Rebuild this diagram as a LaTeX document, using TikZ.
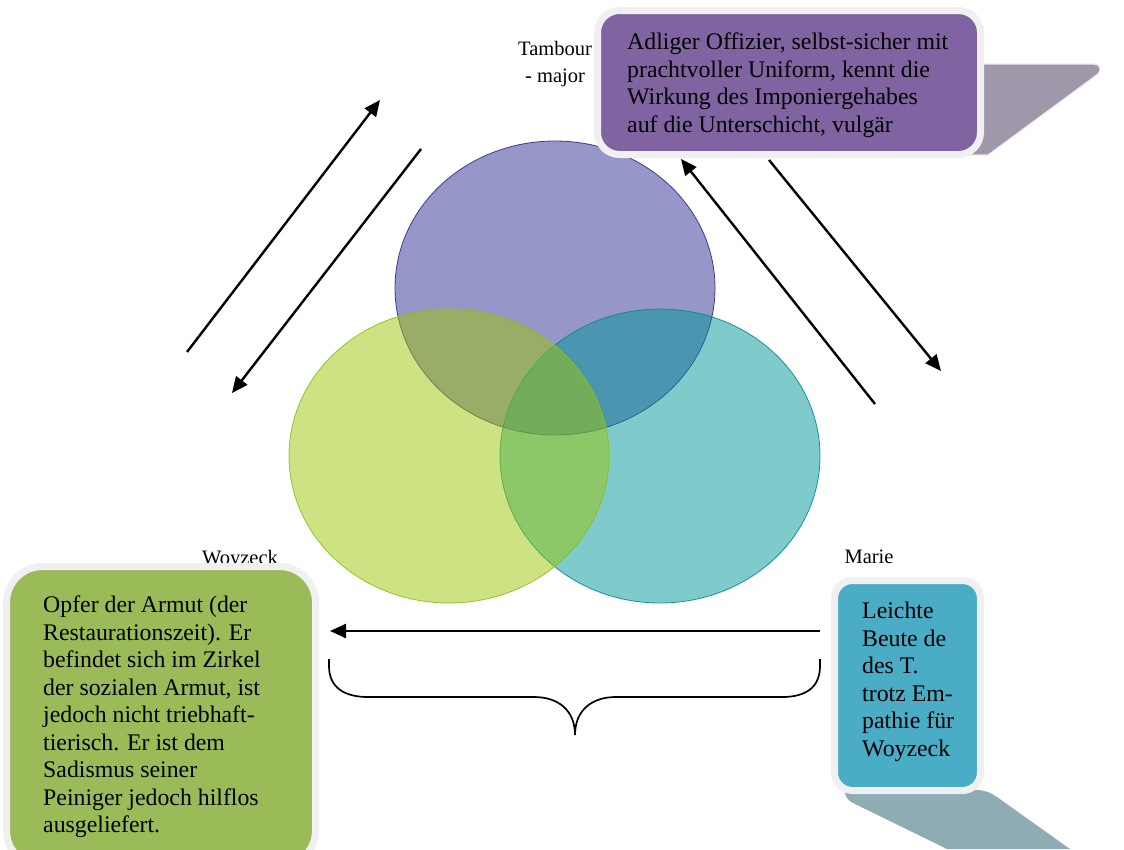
\documentclass[tikz,border=0pt]{standalone}
\usepackage{fontspec}
\setmainfont{Liberation Serif}
\usetikzlibrary{arrows.meta}
\definecolor{cPurpleBase}{RGB}{45,45,145}
\definecolor{cPurpleEdge}{RGB}{45,45,140}
\definecolor{cGreenBase}{RGB}{155,199,7}
\definecolor{cGreenEdge}{RGB}{140,190,20}
\definecolor{cTealBase}{RGB}{0,149,151}
\definecolor{cTealEdge}{RGB}{0,140,145}
\definecolor{boxPurple}{RGB}{128,100,162}
\definecolor{boxGreen}{RGB}{155,187,89}
\definecolor{boxBlue}{RGB}{75,172,198}
\definecolor{boxRim}{RGB}{240,240,240}
\definecolor{shPurple}{RGB}{160,152,170}
\definecolor{shBlue}{RGB}{143,171,180}
\begin{document}
\begin{tikzpicture}[x=1pt,y=-1pt,
  venn/.style={fill opacity=0.5, draw opacity=0.9, line width=0.8},
  cbox/.style={draw=boxRim, line width=7, inner sep=0},
  btext/.style={font=\fontsize{23.8}{27.5}\selectfont, align=left, inner sep=0, anchor=west},
  lbl/.style={font=\fontsize{20.5}{27.5}\selectfont, align=center, inner sep=0},
  arr/.style={line width=2.4, -{Triangle[length=16pt,width=14pt]}},
  brace/.style={line width=1.7}
]
\clip (0,0) rectangle (1124,849);
\useasboundingbox (0,0) rectangle (1124,849);

% Venn ellipses
\draw[venn, fill=cPurpleBase, draw=cPurpleEdge] (555,288) ellipse [x radius=160, y radius=147];
\draw[venn, fill=cTealBase, draw=cTealEdge] (660,456) ellipse [x radius=160, y radius=147];
\draw[venn, fill=cGreenBase, draw=cGreenEdge] (449,456) ellipse [x radius=160, y radius=147];

% labels
\node[lbl] (lT) at (555,64) {Tambour\\- major};
\node[lbl] (lW) at (240,560) {Woyzeck};
\node[lbl] (lM) at (869,557) {Marie};

% shadows
\fill[shPurple, draw=white!85!gray, line width=1.2] (900,64) -- (1094,64) .. controls (1100,64) and (1102,69) .. (1098,74) -- (988,155) -- (900,155) -- cycle;
\fill[shBlue] (845,780) -- (845,793) .. controls (846,798) and (849,801) .. (853,803) -- (947,849) -- (1070,849) -- (997,797) .. controls (990,792) and (983,790) .. (977,790) -- cycle;

% boxes
\node[cbox, fill=boxPurple, rounded corners=22, minimum width=383, minimum height=144] (bT) at (789,82.5) {};
\node[cbox, fill=boxGreen, rounded corners=36, minimum width=309, minimum height=300] (bW) at (161,716.5) {};
\node[cbox, fill=boxBlue, rounded corners=18, minimum width=146, minimum height=210] (bM) at (907.5,685.5) {};

\node[btext] (tT) at (627,85) {Adliger Offizier, selbst-sicher mit\\prachtvoller Uniform, kennt die\\Wirkung des Imponiergehabes\\auf die Unterschicht, vulgär};
\node[btext] (tW) at (43,717) {Opfer der Armut (der\\Restaurationszeit). Er\\befindet sich im Zirkel\\der sozialen Armut, ist\\jedoch nicht triebhaft-\\tierisch. Er ist dem\\Sadismus seiner\\Peiniger jedoch hilflos\\ausgeliefert.};
\node[btext] (tM) at (862,682) {Leichte\\Beute de\\des T.\\trotz Em-\\pathie für\\Woyzeck};

% arrows
\coordinate (a1s) at (187,352); \coordinate (a1e) at (380,100);
\coordinate (a2s) at (421,149); \coordinate (a2e) at (232,393);
\coordinate (a3s) at (875,404); \coordinate (a3e) at (681,159);
\coordinate (a4s) at (769,160); \coordinate (a4e) at (941,371);
\coordinate (a5s) at (820,631); \coordinate (a5e) at (330,631);
\draw[arr] (a1s) -- (a1e);
\draw[arr] (a2s) -- (a2e);
\draw[arr] (a3s) -- (a3e);
\draw[arr] (a4s) -- (a4e);
\draw[arr] (a5s) -- (a5e);

% brace
\coordinate (bL) at (329,659);
\coordinate (bR) at (820,659);
\coordinate (bTip) at (575,735);
\draw[brace] (bL) -- (329,666) .. controls (329,688) and (345,697) .. (368,697) -- (534,697) .. controls (558,697) and (575,710) .. (bTip);
\draw[brace] (bTip) .. controls (575,710) and (592,697) .. (616,697) -- (782,697) .. controls (805,697) and (820,688) .. (820,666) -- (bR);
\end{tikzpicture}
\end{document}
